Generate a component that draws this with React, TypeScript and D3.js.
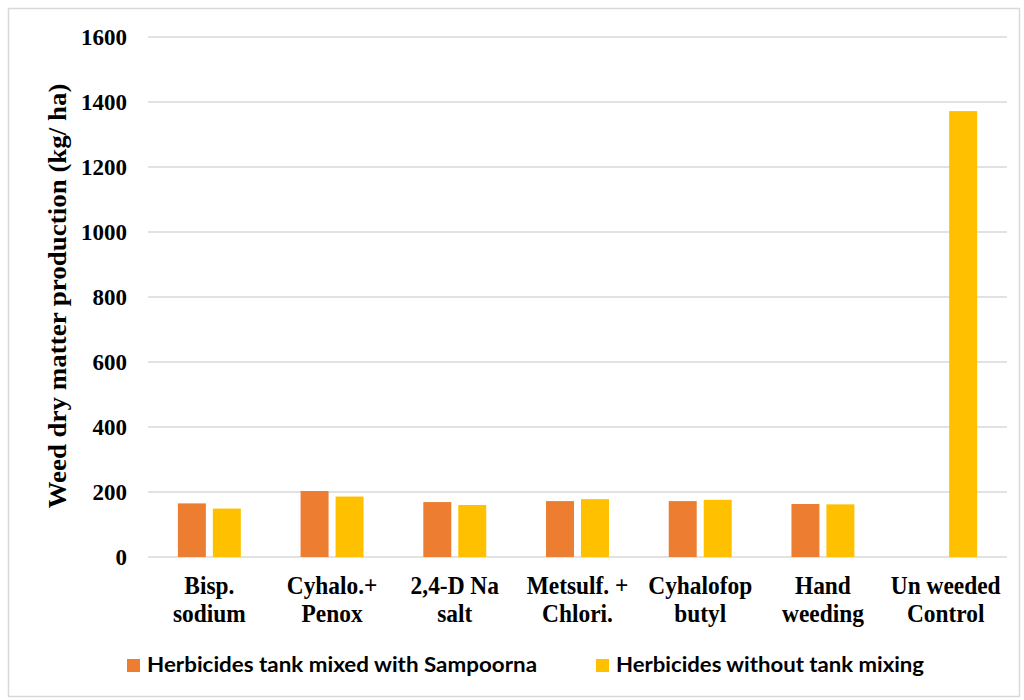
import React, { useEffect, useRef } from "react";
import * as d3 from "d3";

const categories = [
  ["Bisp.", "sodium"],
  ["Cyhalo.+", "Penox"],
  ["2,4-D Na", "salt"],
  ["Metsulf. +", "Chlori."],
  ["Cyhalofop", "butyl"],
  ["Hand", "weeding"],
  ["Un weeded", "Control"],
];
const tankMixed = [165, 203, 169, 172, 172, 163, 0];
const withoutMixing = [149, 186, 160, 178, 176, 162, 1372];
const seriesNames = ["Herbicides tank mixed with Sampoorna", "Herbicides without tank mixing"];
const seriesColors = ["#ED7D31", "#FFC000"];
const yTicks = [0, 200, 400, 600, 800, 1000, 1200, 1400, 1600];

const App = () => {
  const svgRef = useRef(null);

  useEffect(() => {
    document.body.style.margin = "0";
    const svg = d3.select(svgRef.current);
    svg.selectAll("*").remove();

    const left = 148;
    const right = 1007;
    const top = 37;
    const bottom = 557;
    const serif = "'Liberation Serif', 'Times New Roman', serif";

    // chart frame
    svg
      .append("rect")
      .attr("x", 8.5)
      .attr("y", 8.5)
      .attr("width", 1011)
      .attr("height", 688)
      .attr("fill", "white")
      .attr("stroke", "#D9D9D9")
      .attr("stroke-width", 1.5);

    const y = d3.scaleLinear().domain([0, 1600]).range([bottom, top]);
    const x0 = d3
      .scaleBand()
      .domain(categories.map((_, i) => String(i)))
      .range([left, right])
      .paddingInner(0.487)
      .paddingOuter(0.2435);
    const x1 = d3.scaleBand().domain(["0", "1"]).range([0, x0.bandwidth()]).paddingInner(0.2);

    // gridlines
    svg
      .selectAll("line.grid")
      .data(yTicks)
      .join("line")
      .attr("class", "grid")
      .attr("x1", left)
      .attr("x2", right)
      .attr("y1", (d) => y(d))
      .attr("y2", (d) => y(d))
      .attr("stroke", "#D9D9D9")
      .attr("stroke-width", 1.5);

    // y tick labels
    svg
      .selectAll("text.ytick")
      .data(yTicks)
      .join("text")
      .attr("class", "ytick")
      .attr("x", 127)
      .attr("y", (d) => y(d) + 8)
      .attr("text-anchor", "end")
      .style("font-family", serif)
      .style("font-weight", "bold")
      .style("font-size", "23px")
      .style("fill", "#000")
      .text((d) => d);

    // y axis title
    svg
      .append("text")
      .attr("transform", `translate(66,${(top + bottom) / 2 - 1}) rotate(-90)`)
      .attr("text-anchor", "middle")
      .attr("textLength", 425)
      .attr("lengthAdjust", "spacingAndGlyphs")
      .style("font-family", serif)
      .style("font-weight", "bold")
      .style("font-size", "26px")
      .text("Weed dry matter production (kg/ ha)");

    // bars
    const series = [tankMixed, withoutMixing];
    series.forEach((vals, s) => {
      svg
        .selectAll(`rect.bar-${s}`)
        .data(vals)
        .join("rect")
        .attr("class", `bar-${s}`)
        .attr("x", (_, i) => x0(String(i)) + x1(String(s)))
        .attr("width", x1.bandwidth())
        .attr("y", (d) => y(d))
        .attr("height", (d) => bottom - y(d))
        .attr("fill", seriesColors[s]);
    });

    // x labels (text is a bit condensed in the original)
    categories.forEach((lines, i) => {
      const cx = x0(String(i)) + x0.bandwidth() / 2;
      lines.forEach((line, j) => {
        svg
          .append("text")
          .attr("transform", `translate(${cx},${594 + j * 28}) scale(0.9,1)`)
          .attr("text-anchor", "middle")
          .style("font-family", serif)
          .style("font-weight", "bold")
          .style("font-size", "26px")
          .text(line);
      });
    });

    // legend
    const legendX = [127, 596];
    const legendW = [390, 308];
    seriesNames.forEach((name, s) => {
      svg
        .append("rect")
        .attr("x", legendX[s])
        .attr("y", 659)
        .attr("width", 13)
        .attr("height", 13)
        .attr("fill", seriesColors[s]);
      svg
        .append("text")
        .attr("x", legendX[s] + 20)
        .attr("y", 672)
        .attr("textLength", legendW[s])
        .attr("lengthAdjust", "spacingAndGlyphs")
        .style("font-family", "Lato, 'Open Sans', sans-serif")
        .style("font-weight", "bold")
        .style("font-size", "21px")
        .text(name);
    });
  }, []);

  return <svg ref={svgRef} width={1024} height={700} style={{ display: "block" }}></svg>;
};

export default App;
